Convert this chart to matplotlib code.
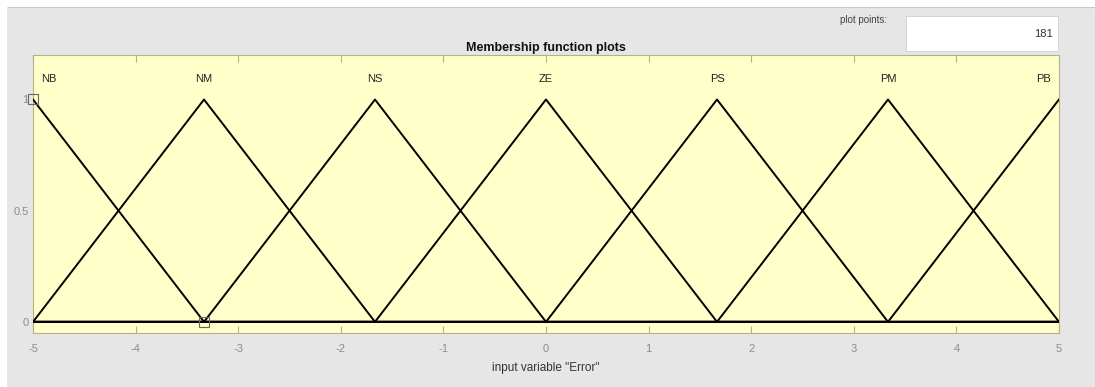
import numpy as np
import matplotlib.pyplot as plt
from matplotlib.patches import Rectangle

plt.rcParams['font.family'] = ['Liberation Sans', 'DejaVu Sans']
plt.rcParams['axes.unicode_minus'] = False

# triangular membership functions for the "Error" input
mf_names = ['NB', 'NM', 'NS', 'ZE', 'PS', 'PM', 'PB']
mf_params = [
    [-6.667, -5.0, -3.333],
    [-5.0, -3.333, -1.667],
    [-3.333, -1.667, 0.0],
    [-1.667, 0.0, 1.667],
    [0.0, 1.667, 3.333],
    [1.667, 3.333, 5.0],
    [3.333, 5.0, 6.667],
]
x_range = [-5, 5]
plot_points = 181
x_ticks = [-5, -4, -3, -2, -1, 0, 1, 2, 3, 4, 5]
y_ticks = [0, 0.5, 1]
y_tick_labels = ['0', '0.5', '1']

fig_bg = '#e6e6e6'
ax_bg = '#ffffc9'
frame = '#b8b088'
tick_grey = '#8c8c8c'

fig = plt.figure(figsize=(10.95, 3.87), dpi=100, facecolor=fig_bg)

# white strip along the top and left edge
fig.patches.append(Rectangle((0, 0.982), 1, 0.018, transform=fig.transFigure,
                             facecolor='white', edgecolor='none', zorder=0))
fig.add_artist(plt.Line2D([0.007, 1], [0.982, 0.982], transform=fig.transFigure,
                          color='#c8c8c8', lw=0.8))
fig.patches.append(Rectangle((0, 0), 0.0065, 1, transform=fig.transFigure,
                             facecolor='white', edgecolor='none', zorder=0))

ax = fig.add_axes([33 / 1095, 1 - 333 / 387, (1059 - 33) / 1095, (333 - 55) / 387])
ax.set_facecolor(ax_bg)

x = np.linspace(x_range[0], x_range[1], plot_points)
for name, (a, b, c) in zip(mf_names, mf_params):
    y = np.interp(x, [a, b, c], [0, 1, 0], left=0, right=0)
    ax.plot(x, y, color='black', lw=1.4, zorder=3)
    if name == 'NB':
        lx, ha = x_range[0] + 0.08, 'left'
    elif name == 'PB':
        lx, ha = x_range[1] - 0.08, 'right'
    else:
        lx, ha = b, 'center'
    ax.text(lx, 1.09, name, ha=ha, va='center', fontsize=8, color='#222222')

# vertex handles of the selected function
ax.plot([mf_params[0][1], mf_params[0][2]], [1, 0], ls='none', marker='s',
        ms=7, mfc='none', mec='#666666', mew=0.8, zorder=4, clip_on=False)

ax.set_xlim(x_range)
ax.set_ylim(-0.05, 1.2)
ax.set_xticks(x_ticks)
ax.set_yticks(y_ticks)
ax.set_yticklabels(y_tick_labels)
ax.tick_params(axis='x', direction='in', top=True, length=5, width=0.8,
               color=frame, labelcolor=tick_grey, labelsize=8, pad=8)
ax.tick_params(axis='y', direction='in', length=0, labelcolor=tick_grey,
               labelsize=8, pad=3)
for s in ax.spines.values():
    s.set_color(frame)
    s.set_linewidth(0.8)

ax.set_xlabel('input variable "Error"', fontsize=8.5, color='#333333', labelpad=6)
ax.set_title('Membership function plots', fontsize=9, fontweight='bold',
             color='#111111', pad=3)

# plot points field
fig.text(864 / 1095, 1 - 20 / 387, 'plot points:', fontsize=7, color='#444444',
         ha='center', va='center')
fig.patches.append(Rectangle((906 / 1095, 1 - 51 / 387), 152 / 1095, 35 / 387,
                             transform=fig.transFigure, facecolor='white',
                             edgecolor='#d0d0d0', lw=0.6))
fig.text(1053 / 1095, 1 - 34 / 387, str(plot_points), fontsize=8, color='#333333',
         ha='right', va='center')

fig.savefig('out.png', dpi=100, facecolor=fig_bg)
